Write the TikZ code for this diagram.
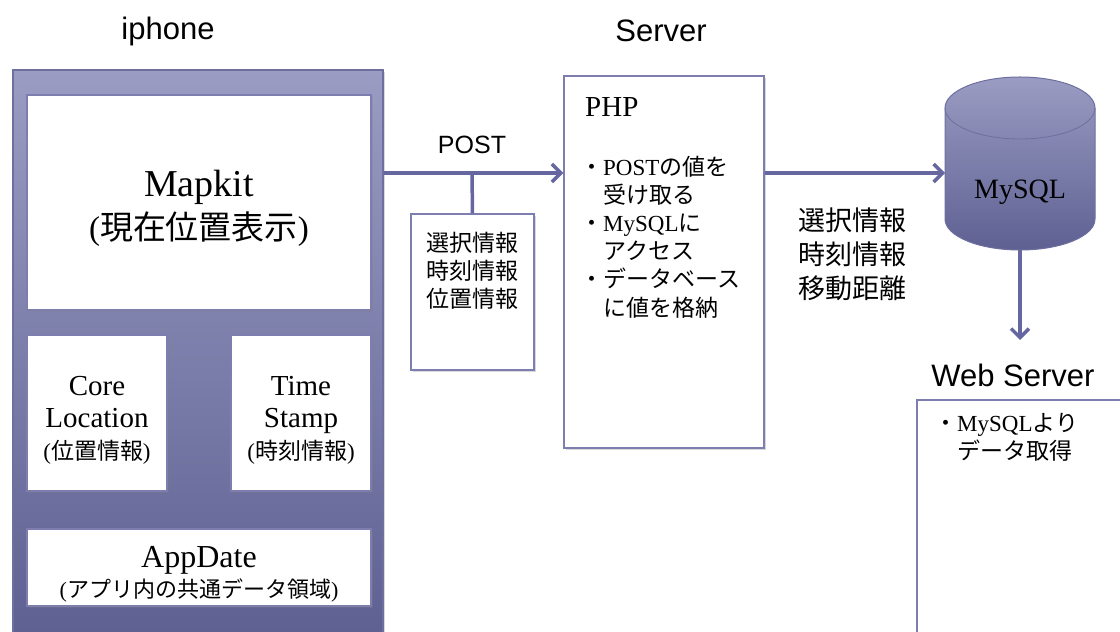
\documentclass[tikz,border=0pt]{standalone}
\usepackage{fontspec}
\setmainfont{Liberation Serif}
\setsansfont{Liberation Sans}
\newfontfamily\cjk{Noto Sans CJK JP}
\usetikzlibrary{arrows.meta,shadows}
\newcommand\setfs[2]{\fontsize{#1}{#2}\selectfont}
\definecolor{panelTop}{HTML}{9A9CC3}
\definecolor{panelBot}{HTML}{5E6092}
\definecolor{panelLine}{HTML}{6E6F9F}
\definecolor{boxLine}{HTML}{7D7DAF}
\definecolor{linkCol}{HTML}{6667A0}

\begin{document}
\begin{tikzpicture}[x=1pt,y=1pt,>={Straight Barb[length=9pt,width=18pt]},
  head/.style={font=\sffamily\setfs{31}{36}},
  box/.style={draw=boxLine,line width=1.2pt,fill=white,inner sep=0pt,
    drop shadow={opacity=0.3,shadow xshift=1.5pt,shadow yshift=-2pt}},
  panel/.style={draw=panelLine,line width=1.2pt,top color=panelTop,bottom color=panelBot,
    drop shadow={opacity=0.3,shadow xshift=1.5pt,shadow yshift=-2pt}},
  link/.style={draw=linkCol,line width=3.5pt}]
\useasboundingbox (0,0) rectangle (1120,632);
\node[head] (iphonelbl) at (168,601) {iphone};
\node[head] (serverlbl) at (661,601) {Server};
\node[head] (weblbl) at (1013,257) {Web Server};

\node[panel,minimum width=370,minimum height=570] (iphone) at (198,277) {};
\node[box,minimum width=344,minimum height=215,align=center,font=\setfs{38}{43}] (mapkit) at (199,429.5)
  {\rule{0pt}{38pt}Mapkit\\{\setfs{33}{43}({\cjk 現在位置表示})}};
\node[box,minimum width=140,minimum height=156,align=center,font=\setfs{29}{32}] (coreloc) at (97,219)
  {\rule{0pt}{34pt}Core\\Location\\{\setfs{23}{32}({\cjk 位置情報})}};
\node[box,minimum width=140,minimum height=156,align=center,font=\setfs{29}{32}] (tstamp) at (301,219)
  {\rule{0pt}{34pt}Time\\Stamp\\{\setfs{23}{32}({\cjk 時刻情報})}};
\node[box,minimum width=344,minimum height=77,align=center,font=\setfs{32}{30}] (appdate) at (199,64.5)
  {\rule{0pt}{35pt}AppDate\\{\setfs{22}{30}({\cjk アプリ内の共通データ領域})}};

\node[box,minimum width=123,minimum height=156] (vals) at (472.5,340) {};
\node[align=center,font=\cjk\setfs{23}{28}] (valstxt) at (472.5,361) {選択情報\\時刻情報\\位置情報};
\node[box,minimum width=200,minimum height=372] (php) at (664,370) {};
\node[anchor=west,inner sep=0pt,font=\setfs{29}{32}] (phptitle) at (585,525) {PHP};
\node[anchor=west,inner sep=0pt,font=\setfs{23}{28.2}] (phptxt) at (580,392)
  {\begin{tabular}{@{}l@{}l@{}}
   {\cjk ・}&POST{\cjk の値を}\\
   &{\cjk 受け取る}\\
   {\cjk ・}&MySQL{\cjk に}\\
   &{\cjk アクセス}\\
   {\cjk ・}&{\cjk データベース}\\
   &{\cjk に値を格納}
  \end{tabular}};

% MySQL cylinder
\path[draw=panelLine,line width=1pt,top color=panelTop,bottom color=panelBot]
  (945,524) -- (945,413) arc[start angle=180,end angle=360,x radius=75,y radius=31]
  -- (1095,524) arc[start angle=0,end angle=180,x radius=75,y radius=31] -- cycle;
\draw[panelLine,line width=0.8pt] (945,524) arc[start angle=180,end angle=360,x radius=75,y radius=31];
\node[font=\setfs{28}{30}] (mysql) at (1020,440) {MySQL};
\coordinate (dbin) at (945,459);
\coordinate (dbout) at (1020,382);
\coordinate (webin) at (1020,292);
\node[align=left,font=\cjk\setfs{27}{34}] (dblbl) at (852,378) {選択情報\\時刻情報\\移動距離};

\node[box,minimum width=213,minimum height=242] (websrv) at (1023.5,111) {};
\node[anchor=west,inner sep=0pt,font=\setfs{23}{27}] (webtxt) at (934,192)
  {\begin{tabular}{@{}l@{}l@{}}
   {\cjk ・}&MySQL{\cjk より}\\
   &{\cjk データ取得}
  \end{tabular}};

\coordinate (tap) at (472,459);
\node[font=\sffamily\setfs{25}{30}] (postlbl) at (472,487) {POST};
\draw[link,->] (iphone.east |- tap) -- (php.west |- tap);
\draw[link] (tap) -- (vals.north);
\draw[link,->] (php.east |- tap) -- (dbin);
\draw[link,->] (dbout) -- (webin);
\end{tikzpicture}
\end{document}
